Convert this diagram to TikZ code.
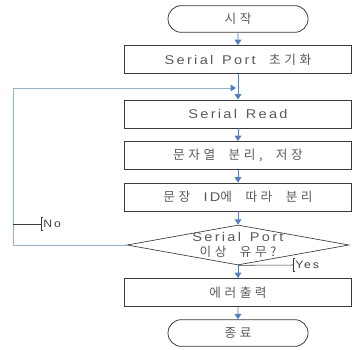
\documentclass[tikz,border=0pt]{standalone}
\usepackage{fontspec}
\newfontfamily\krfont[LetterSpace=28,WordSpace=2.1]{Noto Sans CJK KR}
\newfontfamily\latfont[FakeStretch=1.15,LetterSpace=18,WordSpace=1.4]{Liberation Sans}
\newcommand\lat[1]{{\latfont #1}}
\usetikzlibrary{arrows.meta,shapes.geometric,shapes.misc}
\definecolor{flowblue}{HTML}{4F7FCC}
\definecolor{loopblue}{HTML}{8EAFE3}
\definecolor{edge}{HTML}{3A3A3A}

\tikzset{
  terminal/.style={rounded rectangle, draw=edge, line width=0.6pt, minimum width=105pt,
    minimum height=20pt, inner sep=0pt, text=black!65, font=\krfont\fontsize{9.5}{11}\selectfont},
  process/.style={rectangle, draw=edge, line width=0.7pt, minimum width=170pt,
    minimum height=21pt, inner sep=0pt, text=black!65, font=\krfont\fontsize{9.5}{11}\selectfont},
  decision/.style={diamond, draw=edge, line width=0.5pt, minimum width=166.5pt,
    minimum height=30pt, inner sep=0pt},
  flow/.style={flowblue, line width=0.7pt, -{Triangle[width=5pt,length=4pt]}},
  note/.style={anchor=west, inner sep=1.5pt, minimum height=9.5pt, text=black!75,
    font=\latfont\fontsize{8}{9}\selectfont}
}

\begin{document}
\begin{tikzpicture}[x=0.75pt,y=-0.75pt]
   % page frame
   \useasboundingbox (0,0) rectangle (352,349);

   % main column
   \node[terminal] (start) at (238,19) {시작};
   \node[process] (init) at (238,59.5) {\lat{Serial Port} 초기화};
   \coordinate (join) at (238,88);
   \node[process] (read) at (238,114) {\lat{Serial Read}};
   \node[process] (split) at (238,155.5) {문자열 분리, 저장};
   \node[process] (sort) at (238,197) {문장 \lat{ID}에 따라 분리};
   \node[decision] (check) at (238,245) {};
   \node[text=black!65, font=\krfont\fontsize{9.5}{11}\selectfont, align=center,
     inner sep=0pt] (checktxt) at (238,245) {\lat{Serial Port}\\이상 유무?};
   \node[process] (err) at (238,292.5) {에러출력};
   \node[terminal] (end) at (238,333) {종료};

   % flow
   \draw[flow] (start) -- (init);
   \draw[flow] (init) -- (read);
   \draw[flow] (read) -- (split);
   \draw[flow] (split) -- (sort);
   \draw[flow] (sort) -- (check);
   \draw[flow] (check) -- (err);
   \draw[flow] (err) -- (end);

   % loop back
   \draw[loopblue, line width=0.7pt, -{Triangle[width=5pt,length=4pt,color=flowblue]},
     shorten >=1.5pt] (check.west) -- (13,245) |- (join);

   % answers
   \coordinate (nofoot) at (13,224);
   \node[note] (nolbl) at (41,224) {No};
   \draw[edge, line width=0.4pt] (nofoot) -- (nolbl.west);
   \draw[edge, line width=0.4pt] ([xshift=1.5pt]nolbl.north west) -- (nolbl.north west)
     -- (nolbl.south west) -- ([xshift=1.5pt]nolbl.south west);

   \node[note] (yeslbl) at (293,265) {Yes};
   \draw[edge, line width=0.4pt] (check.south) -- (yeslbl.west);
   \draw[edge, line width=0.4pt] ([xshift=1.5pt]yeslbl.north west) -- (yeslbl.north west)
     -- (yeslbl.south west) -- ([xshift=1.5pt]yeslbl.south west);
\end{tikzpicture}
\end{document}
